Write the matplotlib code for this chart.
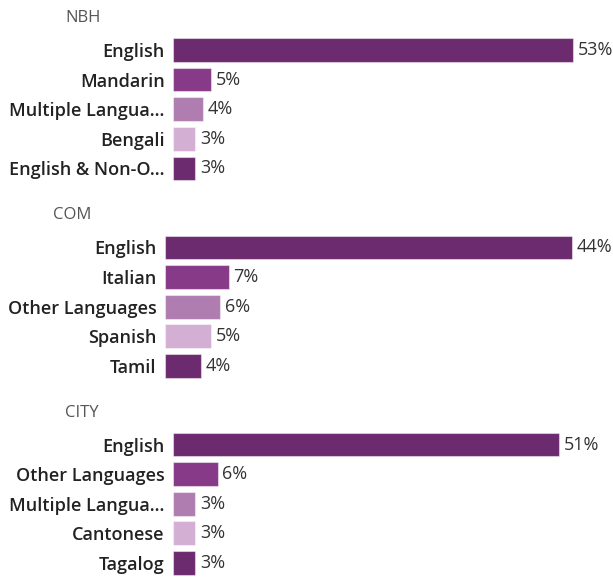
import matplotlib
matplotlib.use("Agg")
import matplotlib.pyplot as plt

panel_titles = ["NBH", "COM", "CITY"]
nbh_labels = ["English", "Mandarin", "Multiple Langua...", "Bengali", "English & Non-O..."]
nbh_values = [53.0, 5.0, 4.0, 2.9, 2.9]
com_labels = ["English", "Italian", "Other Languages", "Spanish", "Tamil"]
com_values = [44.0, 6.9, 5.95, 5.0, 3.9]
city_labels = ["English", "Other Languages", "Multiple Langua...", "Cantonese", "Tagalog"]
city_values = [51.1, 5.9, 2.9, 2.9, 2.9]
value_texts = [["53%", "5%", "4%", "3%", "3%"],
               ["44%", "7%", "6%", "5%", "4%"],
               ["51%", "6%", "3%", "3%", "3%"]]
bar_colors = ["#6c2a6f", "#873a88", "#b07db1", "#d4afd4", "#6c2a6f"]

W, H = 613, 577
fig = plt.figure(figsize=(W / 100, H / 100), dpi=100)
plt.rcParams['font.family'] = ['Open Sans', 'DejaVu Sans']

# layout in pixels: (bar left x, top of first slot y, px per percent, title x, title y)
layouts = [
    (173, 35.2, 7.55, 65, 18),
    (165, 232.7, 9.24, 53, 215),
    (173, 429.7, 7.55, 65, 413),
]
pitch = 29.6
panels = [(nbh_labels, nbh_values), (com_labels, com_values), (city_labels, city_values)]

for i, ((labels, values), (x0, ytop, scale, tx, ty)) in enumerate(zip(panels, layouts)):
    aw = W - x0 - 2
    ah = pitch * len(values)
    ax = fig.add_axes([x0 / W, 1 - (ytop + ah) / H, aw / W, ah / H])
    ypos = list(range(len(values)))
    ax.barh(ypos, values, height=0.8, color=bar_colors,
            edgecolor=(1, 1, 1, 0.45), linewidth=0.8)
    ax.set_xlim(0, aw / scale)
    ax.set_ylim(len(values) - 0.5, -0.5)
    for s in ax.spines.values():
        s.set_visible(False)
    ax.set_xticks([])
    ax.set_yticks(ypos)
    ax.set_yticklabels(labels, fontsize=13, fontweight='semibold', color='#222222')
    ax.tick_params(axis='y', length=0, pad=6)
    for y, v, t in zip(ypos, values, value_texts[i]):
        ax.annotate(t, (v, y), xytext=(3.5, 0), textcoords='offset points',
                    va='center', ha='left', fontsize=13, color='#333333')
    fig.text(tx / W, 1 - ty / H, panel_titles[i], fontsize=12, color='#555555',
             ha='left', va='center')

fig.savefig("out.png", dpi=100)
